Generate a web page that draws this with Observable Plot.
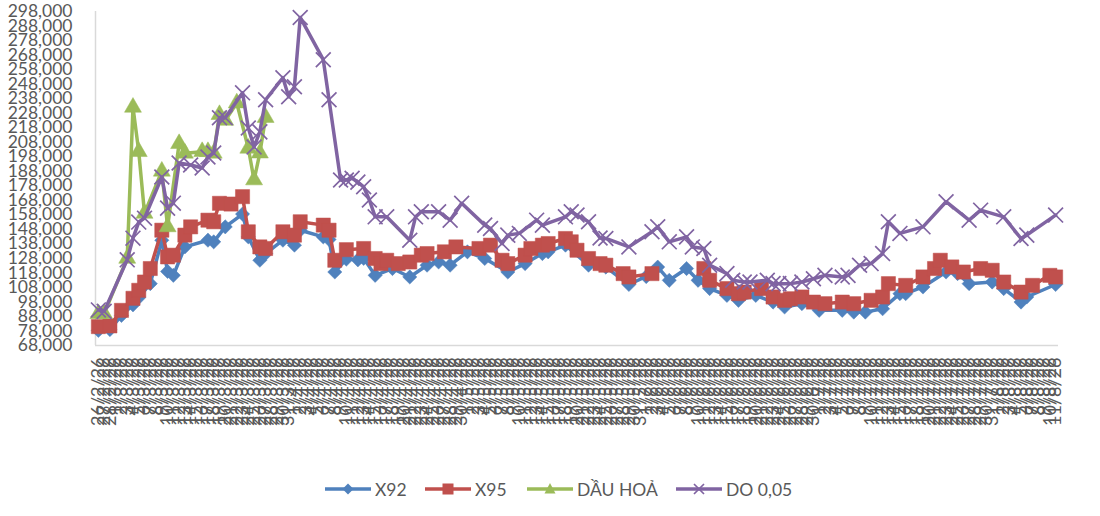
<!DOCTYPE html>
<html><head><meta charset="utf-8">
<script src="https://cdn.jsdelivr.net/npm/d3@7"></script>
<script src="https://cdn.jsdelivr.net/npm/@observablehq/plot@0.6"></script>
<style>
body{margin:0;background:#fff;font-family:Lato,"Liberation Sans",sans-serif;}
#wrap{position:relative;width:1100px;height:516px;overflow:hidden;}
#legend{position:absolute;top:475px;left:0;width:1100px;height:28px;}
.item{position:absolute;top:0;height:28px;display:flex;align-items:center;font-size:17.5px;color:#595959;}
.item svg{margin-right:4px;}
</style></head><body>
<div id="wrap"><div id="chart"></div><div id="legend"></div></div>
<script>
// ---- data (d/m of 2026); null = no value (gap in the line) ----
const seriesNames = ["X92", "X95", "DẦU HOẢ", "DO 0,05"];
const x92Dates = ["26/2","28/2","2/3","4/3","5/3","7/3","9/3","10/3","11/3","13/3","17/3","18/3","20/3","23/3","24/3","26/3","27/3","30/3","1/4","2/4","6/4","7/4","8/4","10/4","12/4","13/4","15/4","18/4","21/4","24/4","26/4","28/4","1/5","4/5","8/5","11/5","14/5","15/5","18/5","22/5","25/5","29/5","1/6","3/6","5/6","8/6","10/6","12/6","15/6","17/6","20/6","23/6","25/6","28/6","1/7","5/7","7/7","9/7","12/7","15/7","16/7","19/7","23/7","25/7","27/7","31/7","2/8","5/8","6/8","11/8"];
const x92Values = [78400,79000,88700,96000,101000,110600,140500,119000,116300,135900,140500,139400,149700,158500,142800,126700,131300,140500,137100,147400,142800,141000,118600,127500,127000,128000,116300,121000,115200,123300,125500,123300,132500,127900,118600,124400,131300,132500,137100,123300,122000,110000,115500,122000,112900,121000,112900,107200,102500,99100,102500,97900,94500,96800,92200,92200,91000,91000,93300,103700,103700,108300,118600,117500,110600,111700,107200,97900,101400,110000];

const x95Dates = ["26/2","28/2","2/3","4/3","5/3","6/3","7/3","9/3","10/3","11/3","13/3","14/3","17/3","18/3","19/3","21/3","23/3","24/3","26/3","27/3","30/3","1/4","2/4","6/4","7/4","8/4","10/4","13/4","15/4","16/4","17/4","19/4","21/4","23/4","24/4","27/4","29/4","3/5","5/5","7/5","8/5","11/5","12/5","14/5","15/5","18/5","19/5","20/5","22/5","24/5","25/5","28/5","29/5","2/6","5/6","11/6","12/6","15/6","17/6","18/6","21/6","23/6","25/6","26/6","28/6","30/6","2/7","5/7","7/7","10/7","12/7","13/7","16/7","19/7","21/7","22/7","24/7","26/7","29/7","31/7","2/8","5/8","7/8","10/8","11/8"];
const x95Values = [81000,81500,92200,100500,106000,111700,121000,147400,129000,130200,144000,149700,154300,153200,165900,165400,170500,146300,135900,134800,146300,144000,153200,150900,147400,126700,134000,134800,127900,124400,126700,124400,125500,130200,131300,132500,135900,134800,137100,126700,124400,130200,134800,137100,138200,141700,139400,133600,127900,124400,123300,117500,115200,117500,null,121000,112900,107200,103700,104800,107200,101400,99100,100200,101400,97900,96800,97900,96800,99100,101400,110600,109400,115200,121000,126700,122100,118600,121000,119800,111700,104800,109400,116300,115200];

const dauHoaDates = ["26/2","27/2","3/3","4/3","5/3","6/3","9/3","10/3","12/3","13/3","16/3","17/3","18/3","19/3","20/3","22/3","24/3","25/3","26/3","27/3"];
const dauHoaValues = [89900,89900,128000,232000,201500,159000,188000,149700,207000,200400,201500,201500,200400,227000,223000,235000,203800,182000,200500,225000];

const doDates = ["26/2","27/2","3/3","4/3","5/3","6/3","9/3","10/3","11/3","12/3","14/3","16/3","17/3","18/3","19/3","20/3","23/3","24/3","25/3","26/3","27/3","30/3","31/3","1/4","2/4","6/4","7/4","9/4","10/4","11/4","12/4","13/4","14/4","15/4","17/4","21/4","22/4","23/4","26/4","28/4","30/4","4/5","5/5","7/5","8/5","10/5","13/5","14/5","18/5","19/5","20/5","22/5","24/5","25/5","29/5","2/6","3/6","5/6","8/6","9/6","11/6","12/6","15/6","16/6","18/6","19/6","22/6","23/6","24/6","26/6","28/6","30/6","2/7","5/7","6/7","8/7","10/7","12/7","13/7","15/7","19/7","23/7","27/7","29/7","2/8","5/8","6/8","11/8"];
const doValues = [92500,91500,127000,141900,153000,155700,184000,162600,166000,193700,192300,190200,197800,200600,224800,224800,242000,217800,204700,215100,237200,252400,239300,246200,293900,264800,237200,182000,182000,183100,180500,177300,168200,156600,156600,140500,156600,160100,160100,154300,165900,150900,148600,138200,144000,145200,154300,150900,156600,160100,157800,153200,142000,141700,135900,146300,149700,139400,142800,135900,134800,123300,117500,112900,111700,111700,112900,110600,110600,110600,111700,114000,116300,115200,116300,123300,124400,131300,153200,145200,149700,167000,154300,161200,156600,141700,144000,157800];

const firstDay = "26/2", lastDay = "11/8", yearShort = "26";
const yTicks = d3.range(68000, 298001, 10000);
const colors = ["#4F81BD", "#C0504D", "#9BBB59", "#8064A2"];

// ---- build ----
const parse = s => { const [d, m] = s.split("/").map(Number); return new Date(Date.UTC(2026, m - 1, d)); };
const start = parse(firstDay), end = parse(lastDay);
const days = d3.utcDay.range(start, d3.utcDay.offset(end, 1));
const half = 12 * 3600 * 1000;
const xDomain = [new Date(+start - half), new Date(+end + half)];

const series = [
  {name: seriesNames[0], color: colors[0], dates: x92Dates, values: x92Values, symbol: "diamond2", r: 6.4, filled: true},
  {name: seriesNames[1], color: colors[1], dates: x95Dates, values: x95Values, symbol: "square", r: 8, filled: true},
  {name: seriesNames[2], color: colors[2], dates: dauHoaDates, values: dauHoaValues, symbol: "triangle", r: 6.3, filled: true},
  {name: seriesNames[3], color: colors[3], dates: doDates, values: doValues, symbol: "times", r: 6.8, filled: false}
];

const marks = [
  Plot.ruleY([yTicks[0]], {stroke: "#d9d9d9", strokeWidth: 1.5}),
  Plot.ruleX([xDomain[0]], {stroke: "#d9d9d9", strokeWidth: 1.5}),
  Plot.axisY({ticks: yTicks, tickFormat: d3.format(","), tickSize: 0, tickPadding: 23, label: null, fontSize: 17.5}),
  Plot.axisX({ticks: days, tickFormat: d => `${d.getUTCDate()}/${d.getUTCMonth() + 1}/${yearShort}`, tickRotate: -90, tickSize: 0, tickPadding: 12, label: null, fontSize: 18})
];
for (const s of series) {
  const data = s.dates.map((d, i) => ({date: parse(d), value: s.values[i]}));
  marks.push(Plot.line(data, {x: "date", y: "value", stroke: s.color, strokeWidth: 3.5, strokeLinejoin: "round"}));
  marks.push(Plot.dot(data.filter(d => d.value != null), {x: "date", y: "value", symbol: s.symbol, r: s.r,
    fill: s.filled ? s.color : "none", stroke: s.color, strokeWidth: s.filled ? 0.5 : 1.7}));
}

const chart = Plot.plot({
  width: 1100, height: 460,
  marginTop: 11, marginBottom: 115, marginLeft: 95, marginRight: 42,
  x: {type: "utc", domain: xDomain},
  y: {domain: [yTicks[0], yTicks[yTicks.length - 1]]},
  style: {fontFamily: "Lato, 'Liberation Sans', sans-serif", fontSize: "17.5px", color: "#595959", background: "white", overflow: "visible"},
  marks
});
document.getElementById("chart").appendChild(chart);

// ---- legend ----
const legendX = [325, 425, 527, 676];
const markerSvg = (s) => {
  const c = s.color;
  if (s.symbol === "diamond2") return `<polygon points="23,4.5 28.5,10 23,15.5 17.5,10" fill="${c}"/>`;
  if (s.symbol === "square") return `<rect x="17.5" y="4.5" width="11" height="11" fill="${c}"/>`;
  if (s.symbol === "triangle") return `<polygon points="23,4 28.5,14.5 17.5,14.5" fill="${c}"/>`;
  return `<path d="M18,5L28,15M18,15L28,5" stroke="${c}" stroke-width="1.7"/>`;
};
const legend = document.getElementById("legend");
series.forEach((s, i) => {
  const el = document.createElement("div");
  el.className = "item";
  el.style.left = legendX[i] + "px";
  el.innerHTML = `<svg width="46" height="20"><line x1="0" y1="10" x2="46" y2="10" stroke="${s.color}" stroke-width="3.5"/>${markerSvg(s)}</svg><span>${s.name}</span>`;
  legend.appendChild(el);
});
</script>
</body></html>
